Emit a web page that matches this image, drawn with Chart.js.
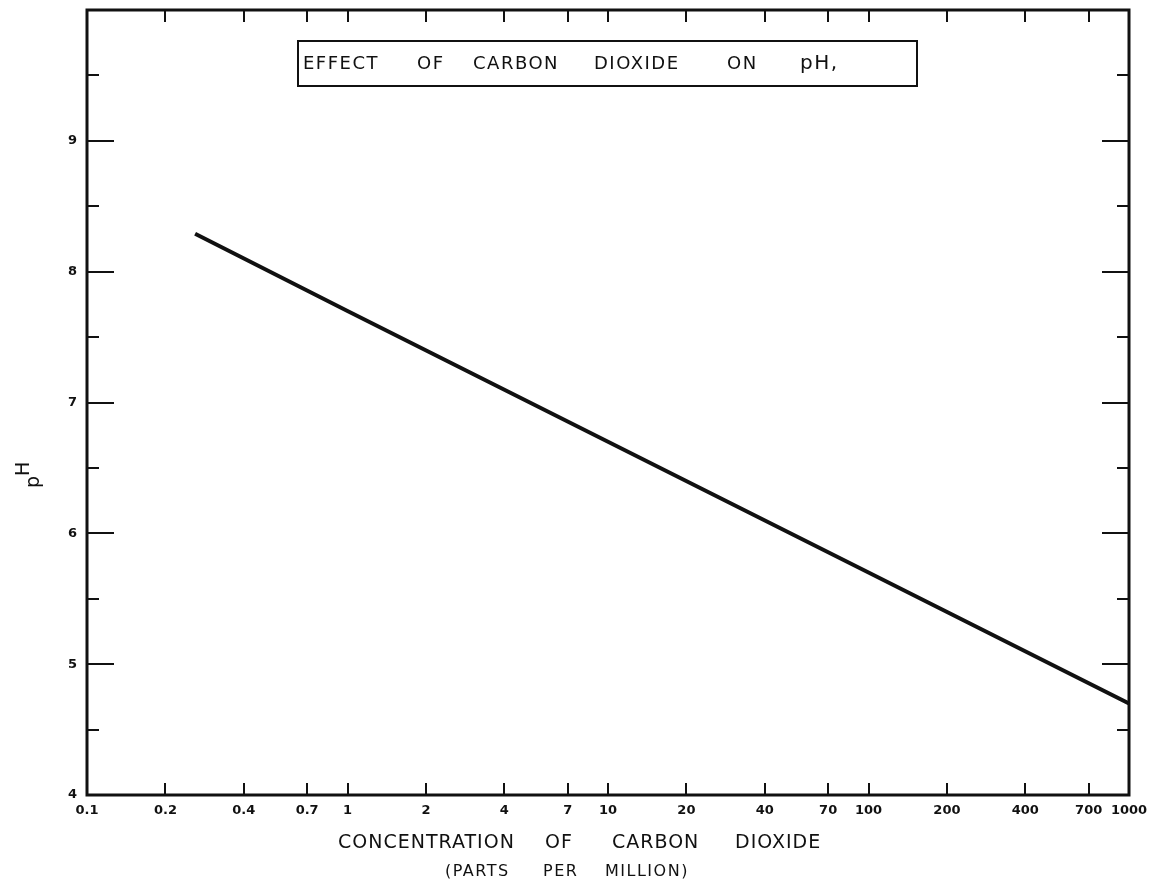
<!DOCTYPE html>
<html>
<head>
<meta charset="utf-8">
<script src="https://cdn.jsdelivr.net/npm/chart.js@4.4.1/dist/chart.umd.min.js"></script>
<style>
  html, body { margin: 0; padding: 0; background: #fff; }
  canvas { display: block; }
</style>
</head>
<body>
<canvas id="ph-chart" width="1159" height="891"></canvas>
<script>
// data (straight line on a log x axis)
const co2Ppm = [0.26, 1, 10, 100, 1000];
const phValues = [8.29, 7.70, 6.70, 5.70, 4.70];

// tick labels
const xTicks = [0.1, 0.2, 0.4, 0.7, 1, 2, 4, 7, 10, 20, 40, 70, 100, 200, 400, 700, 1000];
const xTickLabels = ['0.1', '0.2', '0.4', '0.7', '1', '2', '4', '7', '10', '20', '40', '70', '100', '200', '400', '700', '1000'];
const yMajor = [4, 5, 6, 7, 8, 9];
const yMinor = [4.5, 5.5, 6.5, 7.5, 8.5, 9.5];

const titleWords = ['EFFECT', 'OF', 'CARBON', 'DIOXIDE', 'ON', 'pH,'];
const captionWords = ['CONCENTRATION', 'OF', 'CARBON', 'DIOXIDE'];
const unitWords = ['(PARTS', 'PER', 'MILLION)'];

const ink = '#111';

// frame, inward ticks, boxed title, axis captions
const decorations = {
    id: 'decorations',
    afterDraw(chart) {
        const ctx = chart.ctx;
        const a = chart.chartArea;
        const x = chart.scales.x;
        const y = chart.scales.y;
        ctx.save();
        ctx.strokeStyle = ink;
        ctx.lineWidth = 3;
        ctx.strokeRect(a.left, a.top, a.right - a.left, a.bottom - a.top);

        // x ticks, bottom and top, pointing in
        ctx.lineWidth = 2;
        xTicks.slice(1, -1).forEach(v => {
            const px = Math.round(x.getPixelForValue(v));
            ctx.beginPath();
            ctx.moveTo(px, a.bottom);
            ctx.lineTo(px, a.bottom - 12);
            ctx.moveTo(px, a.top);
            ctx.lineTo(px, a.top + 12);
            ctx.stroke();
        });
        // y ticks, left and right
        yMajor.slice(1).forEach(v => {
            const py = Math.round(y.getPixelForValue(v));
            ctx.beginPath();
            ctx.moveTo(a.left, py);
            ctx.lineTo(a.left + 27, py);
            ctx.moveTo(a.right, py);
            ctx.lineTo(a.right - 27, py);
            ctx.stroke();
        });
        yMinor.forEach(v => {
            const py = Math.round(y.getPixelForValue(v));
            ctx.beginPath();
            ctx.moveTo(a.left, py);
            ctx.lineTo(a.left + 12, py);
            ctx.moveTo(a.right, py);
            ctx.lineTo(a.right - 12, py);
            ctx.stroke();
        });

        // boxed title
        ctx.lineWidth = 2;
        ctx.strokeRect(298, 41, 619, 45);
        ctx.fillStyle = ink;
        ctx.font = '18px "DejaVu Sans"';
        ctx.letterSpacing = '1.5px';
        ctx.textBaseline = 'middle';
        ctx.textAlign = 'left';
        const wordX = [303, 417, 473, 594, 727, 800];
        titleWords.forEach((w, i) => {
            if (i === titleWords.length - 1) ctx.font = '20px "DejaVu Sans"';
            ctx.fillText(w, wordX[i], 64);
        });

        // x axis caption, two lines
        ctx.font = '19px "DejaVu Sans"';
        ctx.letterSpacing = '1px';
        const capX = [338, 545, 612, 735];
        captionWords.forEach((w, i) => ctx.fillText(w, capX[i], 843));
        ctx.font = '16px "DejaVu Sans"';
        ctx.letterSpacing = '1.5px';
        const unitX = [445, 543, 605];
        unitWords.forEach((w, i) => ctx.fillText(w, unitX[i], 872));

        // y axis caption, rotated
        ctx.translate(30, 478);
        ctx.rotate(-Math.PI / 2);
        ctx.font = '19px "DejaVu Sans"';
        ctx.letterSpacing = '0px';
        ctx.fillText('p', -10, 4);
        ctx.fillText('H', 2, -6);
        ctx.restore();
    }
};

function phChart() {
    new Chart(document.getElementById('ph-chart'), {
        type: 'line',
        data: {
            datasets: [{
                label: 'pH',
                data: co2Ppm.map((c, i) => ({ x: c, y: phValues[i] })),
                borderColor: ink,
                borderWidth: 4,
                pointRadius: 0,
                fill: false,
                tension: 0
            }]
        },
        options: {
            responsive: false,
            animation: false,
            layout: { padding: { top: 10, right: 30, left: 0, bottom: 0 } },
            plugins: {
                legend: { display: false },
                tooltip: { enabled: false }
            },
            scales: {
                x: {
                    type: 'logarithmic',
                    min: 0.1,
                    max: 1000,
                    afterBuildTicks: s => { s.ticks = xTicks.map(v => ({ value: v })); },
                    afterFit: s => { s.height = 96; s.paddingLeft = 0; s.paddingRight = 0; },
                    grid: { display: false, drawTicks: false },
                    border: { display: false },
                    ticks: {
                        autoSkip: false,
                        maxRotation: 0,
                        padding: 8,
                        color: ink,
                        font: { family: 'DejaVu Sans', size: 13, weight: 'bold' },
                        callback: (v) => xTickLabels[xTicks.indexOf(v)]
                    }
                },
                y: {
                    min: 4,
                    max: 10,
                    afterBuildTicks: s => { s.ticks = yMajor.map(v => ({ value: v })); },
                    afterFit: s => { s.width = 87; s.paddingTop = 0; s.paddingBottom = 0; },
                    grid: { display: false, drawTicks: false },
                    border: { display: false },
                    ticks: {
                        padding: 10,
                        color: ink,
                        font: { family: 'DejaVu Sans', size: 13, weight: 'bold' }
                    }
                }
            }
        },
        plugins: [decorations]
    });
}

phChart();
</script>
</body>
</html>
